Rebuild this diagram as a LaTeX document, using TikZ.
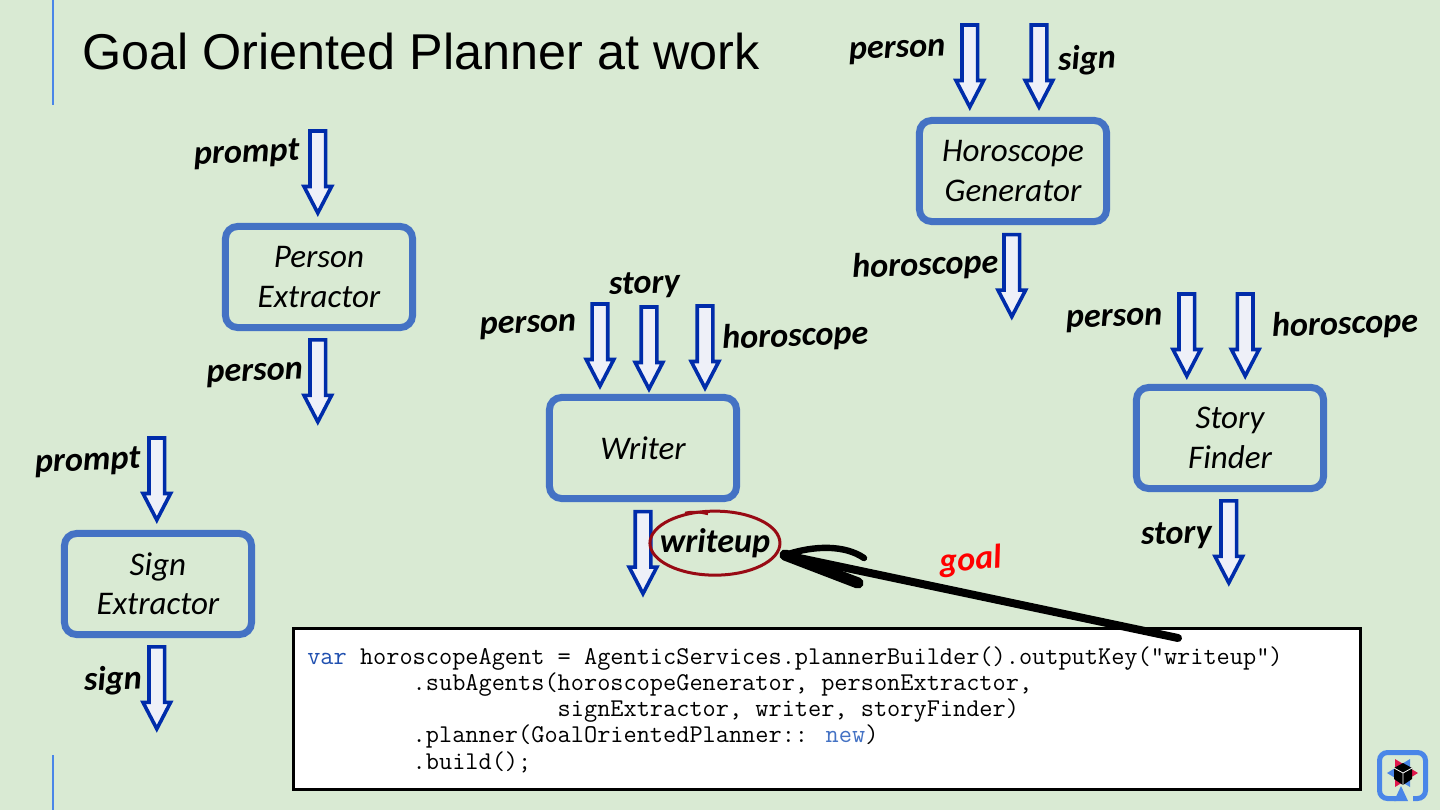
\documentclass[tikz,border=0pt]{standalone}
\usepackage{fontspec}
\setmainfont{Liberation Sans}
\newfontfamily\handfont{Carlito}
\usetikzlibrary{positioning, shapes.arrows, shapes.geometric}
\definecolor{slidegreen}{RGB}{217, 234, 211}
\definecolor{boxblue}{RGB}{68, 114, 196}
\definecolor{flowblue}{RGB}{0, 44, 170}
\definecolor{flowfill}{RGB}{238, 240, 248}
\definecolor{ruleblue}{RGB}{74, 134, 232}
\definecolor{circlered}{RGB}{152, 10, 20}
\definecolor{keyblue}{RGB}{32, 80, 176}
\definecolor{logored}{RGB}{224, 24, 76}
\newcommand{\cw}[1]{\hspace*{#1\fontcharwd\font`x\relax}}
\tikzset{
  agent/.style={draw=boxblue, line width=0.175cm, rounded corners=0.3cm, minimum width=4.675cm, minimum height=2.525cm, align=center, font=\handfont\itshape\fontsize{23.5}{27}\selectfont, inner sep=0pt},
  flow/.style={single arrow, draw=flowblue, fill=flowfill, line width=0.09cm, shape border rotate=270, minimum height=2.05cm, inner sep=0.15cm, single arrow head extend=0.15cm, single arrow tip angle=55, outer sep=0pt},
  tag/.style={font=\handfont\bfseries\itshape\fontsize{24.3}{28}\selectfont, inner sep=0pt, rotate=2},
  goalpen/.style={line width=0.2cm, line cap=round},
  rulebar/.style={draw=ruleblue, line width=0.03cm}
}
\begin{document}
\begin{tikzpicture}[x=0.025cm, y=-0.025cm]
  \useasboundingbox[fill=slidegreen] (0,0) rectangle (1440,810);
  \draw[rulebar] (53,0) -- (53,105);
  \draw[rulebar] (53,755) -- (53,810);
  \node[anchor=west, inner sep=0pt, font=\fontsize{35.8}{40}\selectfont] (title) at (82,52) {Goal Oriented Planner at work};

  % agents
  \node[agent] (person) at (319,277) {Person\\[1pt]Extractor};
  \node[agent] (sign) at (158,584) {Sign\\[1pt]Extractor};
  \node[agent] (writer) at (643,448) {Writer};
  \node[agent] (horoscope) at (1013,171) {Horoscope\\[1pt]Generator};
  \node[agent] (story) at (1230,438) {Story\\[1pt]Finder};

  % person extractor
  \node[flow, above=0.25cm of person.north, xshift=-0.03cm] (personin) {};
  \node[flow, below=0.22cm of person.south, xshift=-0.03cm] (personout) {};
  \node[tag, left=0.25cm of personin.west, yshift=0.3cm] (promptA) {prompt};
  \node[tag, left=0.17cm of personout.west, yshift=0cm] (personA) {person};

  % sign extractor
  \node[flow, above=0.25cm of sign.north, xshift=-0.03cm] (signin) {};
  \node[flow, below=0.22cm of sign.south, xshift=-0.03cm] (signout) {};
  \node[tag, left=0.2cm of signin.west, yshift=0.28cm] (promptB) {prompt};
  \node[tag, left=0.17cm of signout.west, yshift=0.02cm] (signA) {sign};

  % writer
  \node[flow, above=0.125cm of writer.north, xshift=0.15cm] (writerstory) {};
  \node[flow, above=0.2cm of writer.north, xshift=-1.075cm] (writerperson) {};
  \node[flow, above=0.15cm of writer.north, xshift=1.55cm] (writerhoro) {};
  \node[flow, below=0.24cm of writer.south] (writerout) {};
  \node[tag, above=0.2cm of writerstory.north, xshift=-0.1cm] (storyA) {story};
  \node[tag, left=0.38cm of writerperson.west, yshift=0.3cm] (personB) {person};
  \node[tag, right=0.23cm of writerhoro.east, yshift=0cm] (horoA) {horoscope};
  \node[tag, right=0.22cm of writerout.east, yshift=0.05cm, rotate=-2] (writeup) {writeup};
  \node[ellipse, draw=circlered, line width=0.075cm, minimum width=3.25cm, minimum height=1.6cm, inner sep=0pt] (goalring) at (writeup.center) {};

  % horoscope generator
  \node[flow, above=0.25cm of horoscope.north, xshift=-1.08cm] (horoperson) {};
  \node[flow, above=0.25cm of horoscope.north, xshift=0.65cm] (horosign) {};
  \node[flow, below=0.24cm of horoscope.south, xshift=-0.03cm] (horoout) {};
  \node[tag, left=0.4cm of horoperson.west, yshift=0.2cm] (personC) {person};
  \node[tag, right=0.27cm of horosign.east, yshift=-0.07cm] (signB) {sign};
  \node[tag, left=0.13cm of horoout.west, yshift=0.12cm] (horoB) {horoscope};

  % story finder
  \node[flow, above=0.2cm of story.north, xshift=-1.08cm] (storyperson) {};
  \node[flow, above=0.2cm of story.north, xshift=0.38cm] (storyhoro) {};
  \node[flow, below=0.22cm of story.south, xshift=-0.03cm] (storyout) {};
  \node[tag, left=0.4cm of storyperson.west, yshift=0.22cm] (personD) {person};
  \node[tag, right=0.47cm of storyhoro.east, yshift=0cm] (horoC) {horoscope};
  \node[tag, left=0.22cm of storyout.west, yshift=0cm] (storyB) {story};

  % code
  \node[draw=black, line width=0.075cm, fill=white, minimum width=26.65cm, minimum height=4cm, inner sep=0pt] (codebox) at (827,709) {};
  \node[anchor=north west, inner sep=0pt, align=left, font=\ttfamily\fontsize{18.2}{18.7}\selectfont] (code) at (307,646) {%
    \textcolor{keyblue}{var} horoscopeAgent = AgenticServices.plannerBuilder().outputKey("writeup")\\
    \cw{8}.subAgents(horoscopeGenerator, personExtractor,\\
    \cw{19}signExtractor, writer, storyFinder)\\
    \cw{8}.planner(GoalOrientedPlanner:: \textcolor{boxblue}{new})\\
    \cw{8}.build();};

  % goal
  \coordinate (goalfrom) at (1178,638);
  \coordinate (goalto) at (785,555);
  \draw[goalpen] (goalfrom) -- (goalto);
  \draw[goalpen, line width=0.16cm] (goalto) .. controls (815,545) and (845,545) .. (864,558);
  \draw[goalpen, line width=0.28cm] (goalto) -- (858,583);
  \draw[circlered, line width=0.06cm] (685,513) .. controls (693,511) and (699,512) .. (708,514);
  \node[tag, text=red, rotate=3] (goal) at (971,561) {goal};

  % logo
  \draw[ruleblue, line width=0.125cm, rounded corners=0.2cm] (1396,798.5) -- (1379.5,798.5) -- (1379.5,752.5) -- (1425.5,752.5) -- (1425.5,798.5) -- (1413,798.5);
  \fill[ruleblue] (1394,801) -- (1401,786) -- (1408,801) -- cycle;
  \fill[logored] (1395,759) -- (1418,773) -- (1395,787) -- cycle;
  \fill[ruleblue] (1410,759) -- (1387,773) -- (1410,787) -- cycle;
  \fill[black] (1403,763) -- (1412,768) -- (1412,779) -- (1403,785) -- (1394,779) -- (1394,768) -- cycle;
  \draw[white, line width=0.02cm] (1394,768) -- (1403,773) -- (1412,768) (1403,773) -- (1403,785);
\end{tikzpicture}
\end{document}
